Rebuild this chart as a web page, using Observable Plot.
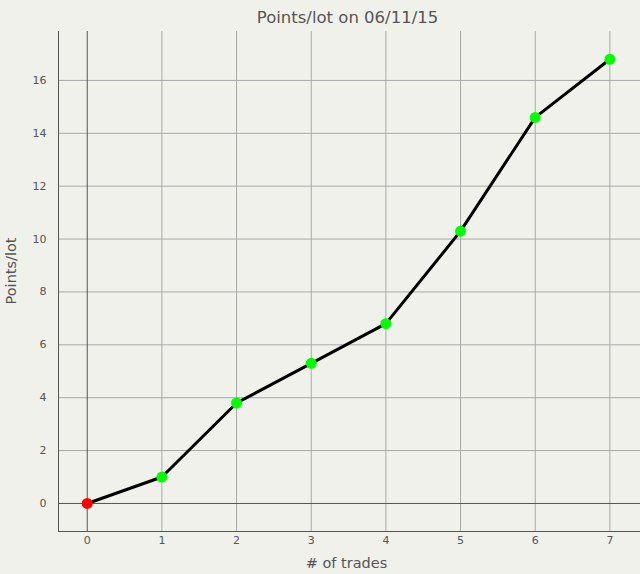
<!DOCTYPE html>
<html>
<head>
<meta charset="utf-8">
<script src="https://cdn.jsdelivr.net/npm/d3@7"></script>
<script src="https://cdn.jsdelivr.net/npm/@observablehq/plot@0.6"></script>
<style>
  html, body { margin: 0; padding: 0; background: #f1f1ec; }
  #chart svg { display: block; }
</style>
</head>
<body>
<div id="chart"></div>
<script>
const trades = [0, 1, 2, 3, 4, 5, 6, 7];
const points = [0, 1.0, 3.8, 5.3, 6.8, 10.3, 14.6, 16.8];
const pointColors = ["#ff0000", "#00ff00", "#00ff00", "#00ff00", "#00ff00", "#00ff00", "#00ff00", "#00ff00"];
const xTicks = [0, 1, 2, 3, 4, 5, 6, 7];
const yTicks = [0, 2, 4, 6, 8, 10, 12, 14, 16];
const title = "Points/lot on 06/11/15";
const xLabel = "# of trades";
const yLabel = "Points/lot";

const data = trades.map((t, i) => ({x: t, y: points[i], c: pointColors[i]}));
const font = "Tahoma, 'DejaVu Sans', sans-serif";

const chart = Plot.plot({
  width: 640,
  height: 574,
  marginLeft: 58,
  marginRight: 0,
  marginTop: 31,
  marginBottom: 43,
  style: {background: "#f1f1ec", fontFamily: font, fontSize: "11px", color: "#555"},
  x: {domain: [-0.385, 7.41], ticks: xTicks, tickSize: 0, label: null},
  y: {domain: [-1.06, 17.85], ticks: yTicks, tickSize: 0, label: null},
  marks: [
    Plot.gridX(xTicks.filter(d => d !== 0), {stroke: "#a8a8a8", strokeOpacity: 1}),
    Plot.gridY(yTicks.filter(d => d !== 0), {stroke: "#a8a8a8", strokeOpacity: 1}),
    Plot.ruleX([0], {stroke: "#555"}),
    Plot.ruleY([0], {stroke: "#555"}),
    Plot.axisX({ticks: xTicks, tickSize: 0, tickPadding: 5, fill: "#555", fontSize: 11, label: null}),
    Plot.axisY({ticks: yTicks, tickSize: 0, tickPadding: 12, fill: "#555", fontSize: 11, label: null}),
    Plot.frame({anchor: "left", stroke: "#555"}),
    Plot.frame({anchor: "bottom", stroke: "#555"}),
    Plot.line(data, {x: "x", y: "y", stroke: "#000", strokeWidth: 3}),
    Plot.dot(data, {x: "x", y: "y", fill: "c", r: 5.5, stroke: null}),
    Plot.text([title], {frameAnchor: "top", dy: -20, fontSize: 16.5, fill: "#555", dx: -2}),
    Plot.text([xLabel], {frameAnchor: "bottom", dy: 36, fontSize: 14.5, fill: "#555", dx: -3}),
    Plot.text([yLabel], {frameAnchor: "left", dx: -47, rotate: -90, fontSize: 14.5, fill: "#555", dy: 23})
  ]
});
document.getElementById("chart").appendChild(chart);
</script>
</body>
</html>
